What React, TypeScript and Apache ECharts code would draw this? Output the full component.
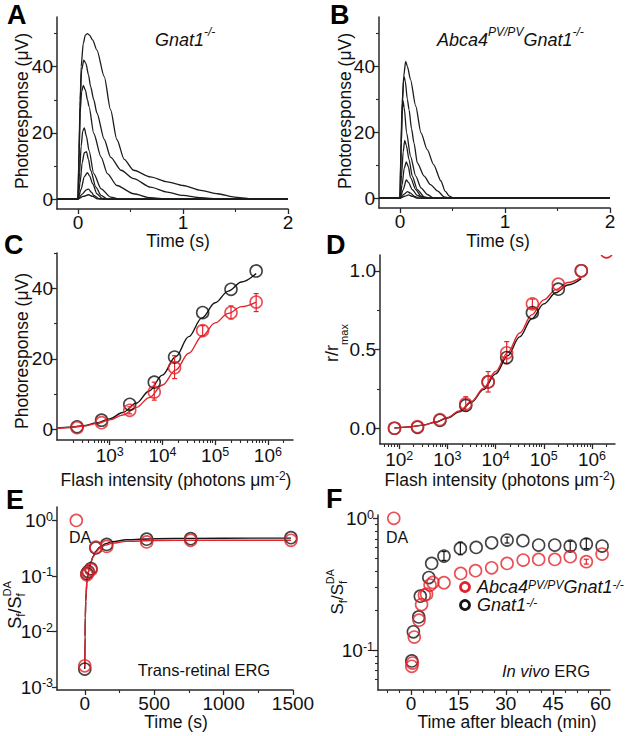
import { useEffect, useRef } from 'react';
import * as echarts from 'echarts';

const FONT = '"Liberation Sans", Arial, Helvetica, sans-serif';
const RED = '#e3232b';
const BLACK = '#141414';
const TRACE = '#1c1c1c';
const AXIS = '#2a2a2a';

// ---------- Panel A: Gnat1-/- traces [time s, response uV] ----------
const traceA1 = [[-0.2,0],[0,0],[0.01,12],[0.02,28],[0.03,40],[0.05,47],[0.07,49.5],[0.09,50],[0.11,49.5],[0.14,48],[0.18,45],[0.25,37],[0.31,27],[0.37,18],[0.44,12],[0.53,8.7],[0.69,6.7],[0.85,5.2],[1.0,4.1],[1.17,2.6],[1.33,1.6],[1.49,0.6],[1.64,0.1],[1.8,0],[2.0,0]];
const traceA2 = [[-0.2,0],[0,0],[0.01,15],[0.02,30],[0.035,39],[0.055,42],[0.075,41],[0.1,37.5],[0.12,34],[0.15,30],[0.18,26],[0.25,18],[0.31,12.7],[0.41,8.7],[0.53,6.2],[0.69,3.6],[0.85,2.1],[1.0,1.1],[1.17,0.4],[1.35,0],[2.0,0]];
const traceA3 = [[-0.2,0],[0,0],[0.01,14],[0.02,26],[0.035,32.5],[0.05,34.3],[0.07,33],[0.09,30],[0.105,28],[0.15,19.8],[0.22,12.7],[0.28,7.7],[0.37,4.1],[0.53,1.6],[0.69,0.4],[0.85,0],[2.0,0]];
const traceA4 = [[-0.2,0],[0,0],[0.015,8],[0.03,16],[0.045,20.5],[0.06,21.5],[0.08,19],[0.105,14.7],[0.15,7.7],[0.22,3.1],[0.31,0.6],[0.4,0],[2.0,0]];
const traceA5 = [[-0.2,0],[0,0],[0.02,5],[0.04,11],[0.06,14],[0.08,14.3],[0.1,12],[0.12,8.7],[0.17,3.6],[0.22,1.1],[0.28,0],[2.0,0]];
const traceA6 = [[-0.2,0],[0,0],[0.03,3],[0.06,6.8],[0.09,8],[0.11,7],[0.14,4.6],[0.18,1.6],[0.23,0.2],[0.3,0],[2.0,0]];
const traceA7 = [[-0.2,0],[0,0],[0.04,1.5],[0.08,2.8],[0.1,3],[0.13,2],[0.15,1.1],[0.2,0.1],[0.25,0],[2.0,0]];
const traceA8 = [[-0.2,0],[0,0],[0.05,0.8],[0.1,1.3],[0.14,0.8],[0.18,0.1],[0.22,0],[2.0,0]];
const tracesA = [traceA1, traceA2, traceA3, traceA4, traceA5, traceA6, traceA7, traceA8];

// ---------- Panel B: Abca4PV/PV Gnat1-/- traces ----------
const traceB1 = [[-0.2,0],[0,0],[0.01,14],[0.02,27],[0.035,37],[0.054,41.5],[0.07,40],[0.1,36],[0.15,27.9],[0.2,19.8],[0.26,14.7],[0.32,10.2],[0.39,5.2],[0.43,2.1],[0.47,0.6],[0.51,0],[2.0,0]];
const traceB2 = [[-0.2,0],[0,0],[0.01,17],[0.02,29],[0.038,37],[0.05,35.5],[0.07,30],[0.086,26.9],[0.11,21],[0.133,16.8],[0.165,10.7],[0.23,6.7],[0.29,4.1],[0.36,2.1],[0.42,0.4],[0.47,0],[2.0,0]];
const traceB3 = [[-0.2,0],[0,0],[0.01,15],[0.02,25],[0.029,29.5],[0.04,27.5],[0.063,19.8],[0.1,12.7],[0.15,6.7],[0.2,3.1],[0.26,1.1],[0.32,0],[2.0,0]];
const traceB4 = [[-0.2,0],[0,0],[0.015,7],[0.03,14],[0.045,17.5],[0.06,16],[0.086,11.7],[0.117,6.7],[0.165,2.6],[0.23,0.4],[0.28,0],[2.0,0]];
const traceB5 = [[-0.2,0],[0,0],[0.02,4],[0.04,9],[0.06,11],[0.08,9.5],[0.1,6.2],[0.15,2.6],[0.2,0.6],[0.25,0],[2.0,0]];
const traceB6 = [[-0.2,0],[0,0],[0.03,2.5],[0.06,5.5],[0.08,4.8],[0.117,2.6],[0.165,0.8],[0.22,0],[2.0,0]];
const traceB7 = [[-0.2,0],[0,0],[0.04,1.2],[0.07,2],[0.1,1.5],[0.14,0.5],[0.18,0],[2.0,0]];
const traceB8 = [[-0.2,0],[0,0],[0.05,0.6],[0.08,1],[0.12,0.5],[0.16,0],[2.0,0]];
const tracesB = [traceB1, traceB2, traceB3, traceB4, traceB5, traceB6, traceB7, traceB8];

// ---------- Panel C: intensity-response ----------
const intensityC = [240, 700, 2400, 7000, 17000, 58000, 200000, 600000];
const gnatC = [0.75, 2.6, 7.1, 13.4, 20.5, 33.1, 39.7, 44.9];
const abcaC = [0.5, 1.9, 5.4, 10.6, 17.5, 28.0, 33.1, 36.1];
const abcaErrC = [[2400, 4.4, 6.4], [7000, 8.3, 13.4], [17000, 14.4, 20.9], [58000, 26.6, 29.4], [200000, 31.3, 35.0], [600000, 33.4, 38.5]];
const fitIntensityC = [100, 178, 316, 562, 1000, 1778, 3162, 5623, 10000, 17783, 31623, 56234, 100000, 177828, 316228, 600000];
const fitGnatC = [0.35, 0.6, 1.05, 1.8, 3.0, 4.8, 7.4, 10.9, 15.4, 20.6, 26.3, 31.6, 35.9, 39.2, 41.8, 44.2];
const fitAbcaC = [0.3, 0.55, 0.95, 1.65, 2.7, 4.1, 6.2, 9.0, 12.6, 16.8, 21.6, 26.4, 30.2, 32.9, 34.8, 36.1];

// ---------- Panel D: normalised intensity-response ----------
const intensityD = [80, 240, 700, 2400, 7000, 17000, 58000, 200000, 600000];
const gnatD = [0.0, 0.006, 0.05, 0.145, 0.294, 0.449, 0.734, 0.883, 1.0];
const abcaD = [0.0, 0.01, 0.055, 0.155, 0.294, 0.479, 0.79, 0.915, 1.0];
const abcaOffD = [[2000000, 1.12]];
const abcaErrD = [[2400, 0.11, 0.2], [7000, 0.23, 0.36], [17000, 0.41, 0.55], [58000, 0.76, 0.82]];
const fitIntensityD = [80, 100, 178, 316, 562, 1000, 1778, 3162, 5623, 10000, 17783, 31623, 56234, 100000, 177828, 316228, 600000];
const fitGnatD = [0.002, 0.004, 0.01, 0.02, 0.038, 0.065, 0.105, 0.165, 0.245, 0.345, 0.46, 0.58, 0.695, 0.79, 0.86, 0.91, 0.95];
const fitAbcaD = [0.002, 0.004, 0.01, 0.02, 0.04, 0.068, 0.11, 0.17, 0.255, 0.36, 0.48, 0.605, 0.72, 0.815, 0.88, 0.925, 0.96];

// ---------- Panel E: trans-retinal ERG recovery ----------
const timeE = [0, 15, 25, 45, 80, 158, 446, 763, 1485];
const gnatE = [0.0021, 0.11, 0.12, 0.135, 0.32, 0.37, 0.46, 0.47, 0.49];
const abcaE = [0.0024, 0.105, 0.115, 0.13, 0.33, 0.34, 0.41, 0.44, 0.44];
const darkE = [[-61, 1.0]];
const fitTimeE = [0, 2, 4, 7, 10, 15, 20, 30, 45, 60, 80, 110, 150, 200, 300, 500, 800, 1200, 1485];
const fitAbcaE = [0.0023, 0.008, 0.018, 0.035, 0.05, 0.075, 0.095, 0.13, 0.18, 0.22, 0.27, 0.32, 0.36, 0.39, 0.42, 0.435, 0.44, 0.44, 0.44];
const fitGnatE = [0.0021, 0.008, 0.018, 0.035, 0.05, 0.075, 0.095, 0.13, 0.18, 0.225, 0.28, 0.335, 0.38, 0.415, 0.45, 0.47, 0.475, 0.48, 0.48];

// ---------- Panel F: in vivo ERG recovery ----------
const timeGnatF = [0.2, 0.7, 2.4, 2.9, 5.6, 6.5, 10.4, 15.6, 20.6, 25.5, 30.4, 35.4, 40.4, 45.5, 50.4, 55.5, 60.5];
const gnatF = [0.083, 0.138, 0.179, 0.257, 0.356, 0.455, 0.518, 0.592, 0.602, 0.653, 0.684, 0.677, 0.627, 0.627, 0.616, 0.638, 0.616];
const timeAbcaF = [0.2, 0.4, 1.0, 2.5, 3.3, 4.2, 4.9, 6.0, 6.9, 10.4, 15.7, 20.4, 25.5, 30.4, 35.5, 40.4, 45.5, 50.4, 55.5, 60.5];
const abcaF = [0.0756, 0.08, 0.126, 0.169, 0.222, 0.262, 0.266, 0.312, 0.327, 0.325, 0.382, 0.401, 0.422, 0.455, 0.483, 0.488, 0.488, 0.512, 0.469, 0.536];
const darkF = [[-5.5, 1.0]];
const gnatErrF = [[10.4, 0.48, 0.56], [15.6, 0.53, 0.66], [30.4, 0.65, 0.72], [50.4, 0.57, 0.67], [55.5, 0.59, 0.7]];
const abcaErrF = [[55.5, 0.45, 0.49]];

// ---------- tick definitions ----------
const ticksTimeAB = { major: [0, 1, 2], labels: [0, 1, 2], minor: [0.5, 1.5] };
const ticksRespAB = { major: [0, 20, 40], labels: [0, 20, 40], minor: [10, 30, 50] };
const ticksIntC = { major: [1e3, 1e4, 1e5, 1e6], labels: [1e3, 1e4, 1e5, 1e6] };
const ticksIntD = { major: [1e2, 1e3, 1e4, 1e5, 1e6], labels: [1e2, 1e3, 1e4, 1e5, 1e6] };
const ticksRelD = { major: [0, 0.5, 1], labels: [0, 0.5, 1], minor: [0.25, 0.75] };
const ticksTimeE = { major: [0, 500, 1000, 1500], labels: [0, 500, 1000, 1500], minor: [250, 750, 1250] };
const ticksSensE = { major: [0.001, 0.01, 0.1, 1], labels: [0.001, 0.01, 0.1, 1] };
const ticksTimeF = { major: [0, 15, 30, 45, 60], labels: [0, 15, 30, 45, 60], minor: [-7.5, -3.75, 3.75, 7.5, 11.25, 18.75, 22.5, 26.25, 33.75, 37.5, 41.25, 48.75, 52.5, 56.25] };
const ticksSensF = { major: [0.1, 1], labels: [0.1, 1] };

function logMinors(min: number, max: number) {
  const out: number[] = [];
  for (let e = -4; e <= 7; e++) {
    for (let k = 2; k <= 9; k++) {
      const v = parseFloat((k * Math.pow(10, e)).toPrecision(6));
      if (v > min && v < max) out.push(v);
    }
  }
  return out;
}

const TICK_FS = 19;
const supFmt = (v: number) => `{b|10}{s|${Math.round(Math.log10(v))}}`;
const RICH_LABEL = {
  b: { fontSize: TICK_FS, fontFamily: FONT, color: '#111', lineHeight: 20, verticalAlign: 'bottom' },
  s: { fontSize: 12.5, fontFamily: FONT, color: '#111', lineHeight: 11, verticalAlign: 'top' },
};

type Spec = { type: 'value' | 'log'; min: number; max: number; major: number[]; labels: number[]; minor?: number[]; fmt?: (v: number) => string };

function axisPair(dim: 'x' | 'y', grid: number, s: Spec) {
  const position = dim === 'x' ? 'bottom' : 'left';
  const primary: any = {
    type: s.type, gridIndex: grid, min: s.min, max: s.max, position, logBase: 10,
    axisLine: { show: true, onZero: false, lineStyle: { color: AXIS, width: 1.5 } },
    axisTick: { show: true, customValues: s.major, length: 5, lineStyle: { color: AXIS, width: 1.3 } },
    axisLabel: {
      show: true, customValues: s.labels, margin: dim === 'x' ? 5 : 4, color: '#111', lineHeight: 16,
      fontSize: TICK_FS, fontFamily: FONT, formatter: s.fmt ?? ((v: number) => String(v)), rich: RICH_LABEL,
    },
    splitLine: { show: false }, minorTick: { show: false }, minorSplitLine: { show: false },
  };
  const minorVals = s.minor ?? [];
  const minor: any = {
    type: s.type, gridIndex: grid, min: s.min, max: s.max, position, logBase: 10,
    axisLine: { show: false, onZero: false },
    axisTick: { show: minorVals.length > 0, customValues: minorVals, length: 3, lineStyle: { color: AXIS, width: 1.1 } },
    axisLabel: { show: false }, splitLine: { show: false },
  };
  return [primary, minor];
}

const zip = (xs: number[], ys: number[]) => xs.map((x, i) => [x, ys[i]]);

function buildOption() {
  const grids = [
    { left: 57, top: 17, width: 231, height: 192 },
    { left: 379, top: 17, width: 231, height: 191 },
    { left: 57, top: 253, width: 236, height: 187 },
    { left: 380, top: 255, width: 235, height: 189 },
    { left: 57, top: 507, width: 236, height: 183 },
    { left: 378, top: 515, width: 232, height: 175 },
  ].map((g) => ({ ...g, containLabel: false, outerBoundsMode: 'none' }));

  const xSpecs: Spec[] = [
    { type: 'value', min: -0.2, max: 2, ...ticksTimeAB },
    { type: 'value', min: -0.2, max: 2, ...ticksTimeAB },
    { type: 'log', min: 100, max: 3e6, ...ticksIntC, minor: logMinors(100, 3e6), fmt: supFmt },
    { type: 'log', min: 40, max: 3e6, ...ticksIntD, minor: logMinors(40, 3e6), fmt: supFmt },
    { type: 'value', min: -200, max: 1500, ...ticksTimeE },
    { type: 'value', min: -10.5, max: 63, ...ticksTimeF },
  ];
  const ySpecs: Spec[] = [
    { type: 'value', min: -3, max: 55, ...ticksRespAB },
    { type: 'value', min: -3, max: 55, ...ticksRespAB },
    { type: 'value', min: -3, max: 50, ...ticksRespAB },
    { type: 'value', min: -0.1, max: 1.1, ...ticksRelD, fmt: (v: number) => v.toFixed(1) },
    { type: 'log', min: 0.00088, max: 1.75, ...ticksSensE, fmt: supFmt },
    { type: 'log', min: 0.05, max: 1.06, ...ticksSensF, minor: logMinors(0.05, 1.06), fmt: supFmt },
  ];
  const xAxis: any[] = [];
  const yAxis: any[] = [];
  xSpecs.forEach((s, i) => xAxis.push(...axisPair('x', i, s)));
  ySpecs.forEach((s, i) => yAxis.push(...axisPair('y', i, s)));

  const ax = (p: number) => ({ xAxisIndex: 2 * p, yAxisIndex: 2 * p });
  const trace = (p: number, data: number[][]) => ({
    type: 'line', ...ax(p), data, symbol: 'none', showSymbol: false, smooth: 0.25, smoothMonotone: 'x',
    lineStyle: { color: TRACE, width: 1.3 }, silent: true, z: 2,
  });
  const fit = (p: number, data: number[][], color: string) => ({
    type: 'line', ...ax(p), data, symbol: 'none', showSymbol: false, smooth: 0.35, smoothMonotone: 'x',
    lineStyle: { color, width: 1.4 }, silent: true, z: 2,
  });
  const circles = (p: number, data: number[][], color: string) => ({
    type: 'scatter', ...ax(p), data, symbol: 'circle', symbolSize: 12,
    itemStyle: { color: 'rgba(0,0,0,0)', borderColor: color, borderWidth: 1.6 }, silent: true, z: 3,
  });
  const errBars = (p: number, data: number[][], color: string) => ({
    type: 'custom', ...ax(p), data, silent: true, z: 3, encode: { x: 0, y: [1, 2] },
    renderItem: (_params: any, api: any) => {
      const x = api.value(0);
      const a = api.coord([x, api.value(1)]);
      const b = api.coord([x, api.value(2)]);
      const w = 2.5;
      const st = { stroke: color, lineWidth: 1.2 };
      return {
        type: 'group',
        children: [
          { type: 'line', shape: { x1: a[0], y1: a[1], x2: b[0], y2: b[1] }, style: st },
          { type: 'line', shape: { x1: a[0] - w, y1: a[1], x2: a[0] + w, y2: a[1] }, style: st },
          { type: 'line', shape: { x1: b[0] - w, y1: b[1], x2: b[0] + w, y2: b[1] }, style: st },
        ],
      };
    },
  });
  const clippedCircle = (p: number, data: number[][], color: string) => ({
    type: 'custom', ...ax(p), data, silent: true, clip: true, z: 3,
    renderItem: (_params: any, api: any) => {
      const c = api.coord([api.value(0), api.value(1)]);
      return { type: 'circle', shape: { cx: c[0], cy: c[1], r: 6 }, style: { fill: 'none', stroke: color, lineWidth: 1.6 } };
    },
  });

  const series: any[] = [
    ...tracesA.map((t) => trace(0, t)),
    ...tracesB.map((t) => trace(1, t)),
    fit(2, zip(fitIntensityC, fitGnatC), BLACK),
    fit(2, zip(fitIntensityC, fitAbcaC), RED),
    circles(2, zip(intensityC, gnatC), BLACK),
    errBars(2, abcaErrC, RED),
    circles(2, zip(intensityC, abcaC), RED),
    fit(3, zip(fitIntensityD, fitGnatD), BLACK),
    fit(3, zip(fitIntensityD, fitAbcaD), RED),
    circles(3, zip(intensityD, gnatD), BLACK),
    errBars(3, abcaErrD, RED),
    circles(3, zip(intensityD, abcaD), RED),
    clippedCircle(3, abcaOffD, RED),
    fit(4, zip(fitTimeE, fitGnatE), BLACK),
    fit(4, zip(fitTimeE, fitAbcaE), RED),
    circles(4, zip(timeE, gnatE), BLACK),
    circles(4, zip(timeE, abcaE), RED),
    circles(4, darkE, RED),
    errBars(5, gnatErrF, BLACK),
    circles(5, zip(timeGnatF, gnatF), BLACK),
    errBars(5, abcaErrF, RED),
    circles(5, zip(timeAbcaF, abcaF), RED),
    circles(5, darkF, RED),
  ];

  const base = { fontFamily: FONT, fill: '#111' };
  const letter = (t: string, x: number, y: number) => ({
    type: 'text', x, y, silent: true,
    style: { ...base, text: t, fontSize: 27, fontWeight: 'bold', fill: '#000', align: 'left', verticalAlign: 'middle' },
  });
  const label = (t: string, x: number, y: number, opts: any = {}) => ({
    type: 'text', x, y, silent: true, rotation: opts.rotation ?? 0,
    style: {
      ...base, text: t, fontSize: opts.fontSize ?? 17.5, lineHeight: opts.lineHeight ?? 17,
      align: opts.align ?? 'center', verticalAlign: 'middle', rich: opts.rich,
    },
  });
  const richSup = (size: number, italic: boolean, lh = size + 5) => ({
    n: { fontFamily: FONT, fontSize: size, fontStyle: italic ? 'italic' : 'normal', fill: '#111', lineHeight: lh, verticalAlign: 'bottom' },
    s: { fontFamily: FONT, fontSize: Math.round(size * 0.66), fontStyle: italic ? 'italic' : 'normal', fill: '#111', lineHeight: Math.round(size * 0.6), verticalAlign: 'top' },
  });
  const richSub = (size: number) => ({
    n: { fontFamily: FONT, fontSize: size, fill: '#111', lineHeight: size + 8, verticalAlign: 'top' },
    d: { fontFamily: FONT, fontSize: Math.round(size * 0.62), fill: '#111', lineHeight: 12, verticalAlign: 'bottom' },
  });
  const sensTitle = (x: number, y: number, size: number) => {
    const w = (k: number) => k * size;
    const sub = size * 0.66;
    const x0 = -(w(0.667) * 2 + sub * 0.278 + w(0.278) + 11 * (size / 18) * 1.389) / 2;
    const t = (text: string, px: number, py: number, fs: number) => ({
      type: 'text', x: px, y: py, silent: true,
      style: { ...base, text, fontSize: fs, lineHeight: fs, align: 'left', verticalAlign: 'middle' },
    });
    const xS2 = x0 + w(0.667) + sub * 0.278 + w(0.278);
    return {
      type: 'group', x, y, rotation: Math.PI / 2, silent: true,
      children: [
        t('S', x0, 0, size),
        t('f', x0 + w(0.667), size * 0.36, sub),
        t('/', x0 + w(0.667) + sub * 0.278, 0, size),
        t('S', xS2, 0, size),
        t('f', xS2 + w(0.667), size * 0.36, sub),
        t('DA', xS2 + w(0.667), -size * 0.42, size * 0.62),
      ],
    };
  };

  const graphic: any[] = [
    letter('A', 7, 14.5),
    letter('B', 330, 14.5),
    letter('C', 4, 245),
    letter('D', 326, 245),
    letter('E', 6, 500),
    letter('F', 326, 499),
    label('{n|Gnat1}{s|-/-}', 155, 37, { align: 'left', rich: richSup(18, true) }),
    label('{n|Abca4}{s|PV/PV}{n|Gnat1}{s|-/-}', 437, 37, { align: 'left', rich: richSup(18, true) }),
    label('Photoresponse (μV)', 21.5, 111, { rotation: Math.PI / 2 }),
    label('Photoresponse (μV)', 345, 111, { rotation: Math.PI / 2 }),
    label('Time (s)', 178, 241),
    label('Time (s)', 498, 241),
    label('Photoresponse (μV)', 21.5, 351, { rotation: Math.PI / 2 }),
    label('{n|Flash intensity (photons μm}{s|-2}{n|)}', 176, 479, { rich: richSup(17.5, false, 19) }),
    label('{n|Flash intensity (photons μm}{s|-2}{n|)}', 500, 479, { rich: richSup(17.5, false, 19) }),
    label('{n|r/r}{d|max}', 336, 343, { rotation: Math.PI / 2, rich: richSub(18) }),
    sensTitle(15, 605, 18),
    sensTitle(337, 592, 17),
    label('DA', 80, 537, { fontSize: 16 }),
    label('DA', 397, 537, { fontSize: 16 }),
    label('Trans-retinal ERG', 204, 670, { fontSize: 16.5 }),
    label('{i|In vivo}{n| ERG}', 546, 671, {
      rich: {
        i: { fontFamily: FONT, fontSize: 16.5, fontStyle: 'italic', fill: '#111', lineHeight: 17 },
        n: { fontFamily: FONT, fontSize: 16.5, fill: '#111', lineHeight: 17 },
      },
    }),
    label('Time (s)', 176, 722),
    label('Time after bleach (min)', 507, 722),
    { type: 'circle', silent: true, shape: { cx: 465, cy: 587, r: 4.5 }, style: { fill: 'none', stroke: RED, lineWidth: 2.8 } },
    { type: 'circle', silent: true, shape: { cx: 465, cy: 605, r: 4.5 }, style: { fill: 'none', stroke: BLACK, lineWidth: 2.8 } },
    label('{n|Abca4}{s|PV/PV}{n|Gnat1}{s|-/-}', 477, 587, { align: 'left', rich: richSup(18, true, 17) }),
    label('{n|Gnat1}{s|-/-}', 477, 605, { align: 'left', rich: richSup(18, true, 17) }),
  ];

  return {
    animation: false,
    backgroundColor: '#ffffff',
    textStyle: { fontFamily: FONT },
    grid: grids,
    xAxis,
    yAxis,
    series,
    graphic,
  };
}

export default function App() {
  const ref = useRef<HTMLDivElement>(null);
  useEffect(() => {
    document.body.style.margin = '0';
    const chart = echarts.init(ref.current as HTMLDivElement, undefined, { renderer: 'svg' });
    chart.setOption(buildOption() as any);
    return () => chart.dispose();
  }, []);
  return <div ref={ref} style={{ width: 634, height: 736 }} />;
}
